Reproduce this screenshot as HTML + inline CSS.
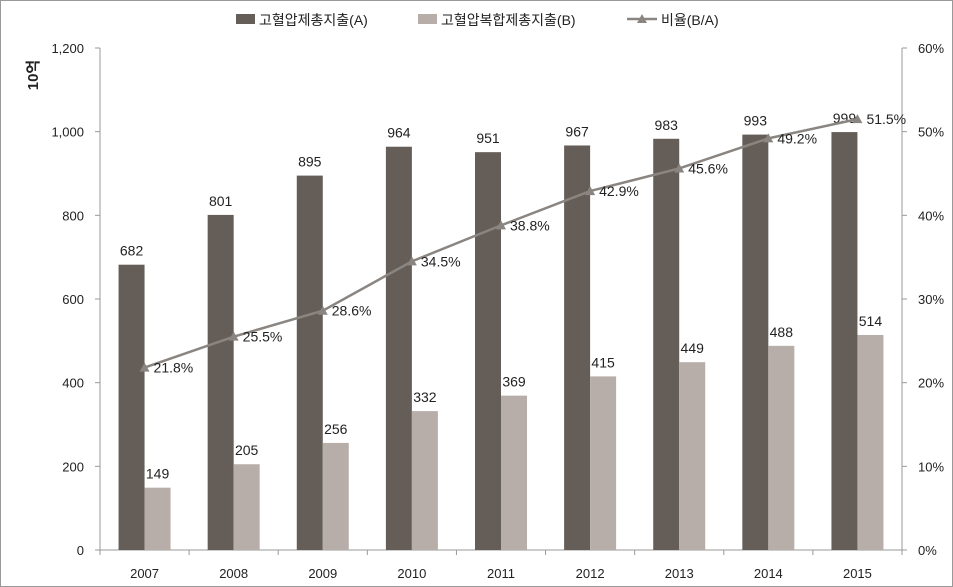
<!DOCTYPE html>
<html><head><meta charset="utf-8"><style>
body{margin:0;background:#fff;}
svg{display:block;font-family:"Liberation Sans","Noto Sans CJK KR",sans-serif;}
</style></head><body>
<svg id="c" width="953" height="587" xmlns="http://www.w3.org/2000/svg">
<rect x="0.5" y="0.5" width="952" height="586" fill="#fff" stroke="#999"/>
<g>
<rect x="236" y="14" width="19" height="10" fill="#655e58"/>
<text x="259" y="25" font-size="14" fill="#222">고혈압제총지출(A)</text>
<rect x="418" y="14" width="19" height="10" fill="#b7aeaa"/>
<text x="441" y="25" font-size="14" fill="#222">고혈압복합제총지출(B)</text>
<line x1="627" y1="19" x2="657" y2="19" stroke="#8a8580" stroke-width="2.5"/>
<polygon points="642,14 647,23 637,23" fill="#8a8580"/>
<text x="661" y="25" font-size="14" fill="#222">비율(B/A)</text>
</g>
<text transform="translate(38,75) rotate(-90)" font-size="15" font-weight="bold" fill="#222" text-anchor="middle">10억</text>
<g id="axes"></g><g id="bars"></g><g id="line"></g>
</svg>
<script>
const years=["2007","2008","2009","2010","2011","2012","2013","2014","2015"];
const seriesA=[682,801,895,964,951,967,983,993,999];
const seriesB=[149,205,256,332,369,415,449,488,514];
const ratio=[21.8,25.5,28.6,34.5,38.8,42.9,45.6,49.2,51.5];
const leftTicks=[0,200,400,600,800,1000,1200];
const rightTicks=[0,10,20,30,40,50,60];
const NS="http://www.w3.org/2000/svg";
const L=100,R=902,T=48,B=550;
const bw=(R-L)/years.length;
const yL=v=>B-(v/1200)*(B-T);
const yR=v=>B-(v/60)*(B-T);
const xC=i=>L+bw*(i+0.5);
function mk(tag,attrs,parent,txt){const e=document.createElementNS(NS,tag);for(const k in attrs)e.setAttribute(k,attrs[k]);if(txt!==undefined)e.textContent=txt;parent.appendChild(e);return e;}
const ax=document.getElementById('axes'),bars=document.getElementById('bars'),ln=document.getElementById('line');
let e;
e=mk('line',{x1:L,y1:T,x2:L,y2:B,stroke:'#999'},ax);


e=mk('line',{x1:R,y1:T,x2:R,y2:B,stroke:'#999'},ax);


e=mk('line',{x1:L,y1:B,x2:R,y2:B,stroke:'#999'},ax);


leftTicks.forEach(v=>{const y=yL(v);mk('line',{x1:L-5,y1:y,x2:L,y2:y,stroke:'#999'},ax);
e=mk('text',{x:L-16,y:y+5,'font-size':13,'text-anchor':'end',fill:'#222'},ax,v.toLocaleString('en-US'));

});
rightTicks.forEach(v=>{const y=yR(v);mk('line',{x1:R,y1:y,x2:R+5,y2:y,stroke:'#999'},ax);
e=mk('text',{x:R+16,y:y+5,'font-size':13,fill:'#222'},ax,v+'%');

});
for(let i=0;i<=years.length;i++){const x=L+bw*i;mk('line',{x1:x,y1:B,x2:x,y2:B+5,stroke:'#999'},ax);}
years.forEach((yr,i)=>{const c=xC(i);
e=mk('text',{x:c,y:B+28,'font-size':13,'text-anchor':'middle',fill:'#222'},ax,yr);


e=mk('rect',{x:c-26,y:yL(seriesA[i]),width:26,height:B-yL(seriesA[i]),fill:'#655e58'},bars);


e=mk('rect',{x:c,y:yL(seriesB[i]),width:26,height:B-yL(seriesB[i]),fill:'#b7aeaa'},bars);


e=mk('text',{x:c-13,y:yL(seriesA[i])-9,'font-size':14,'text-anchor':'middle',fill:'#222'},bars,seriesA[i]);


e=mk('text',{x:c+13,y:yL(seriesB[i])-9,'font-size':14,'text-anchor':'middle',fill:'#222'},bars,seriesB[i]);

});
e=mk('polyline',{points:ratio.map((v,i)=>xC(i)+','+yR(v)).join(' '),fill:'none',stroke:'#8a8580','stroke-width':2.5},ln);


ratio.forEach((v,i)=>{const x=xC(i),y=yR(v);
e=mk('polygon',{points:`${x},${y-5} ${x+5},${y+4} ${x-5},${y+4}`,fill:'#8a8580'},ln);


e=mk('text',{x:x+9,y:y+5,'font-size':14,fill:'#222'},ln,v.toFixed(1)+'%');

});
</script>
</body></html>
